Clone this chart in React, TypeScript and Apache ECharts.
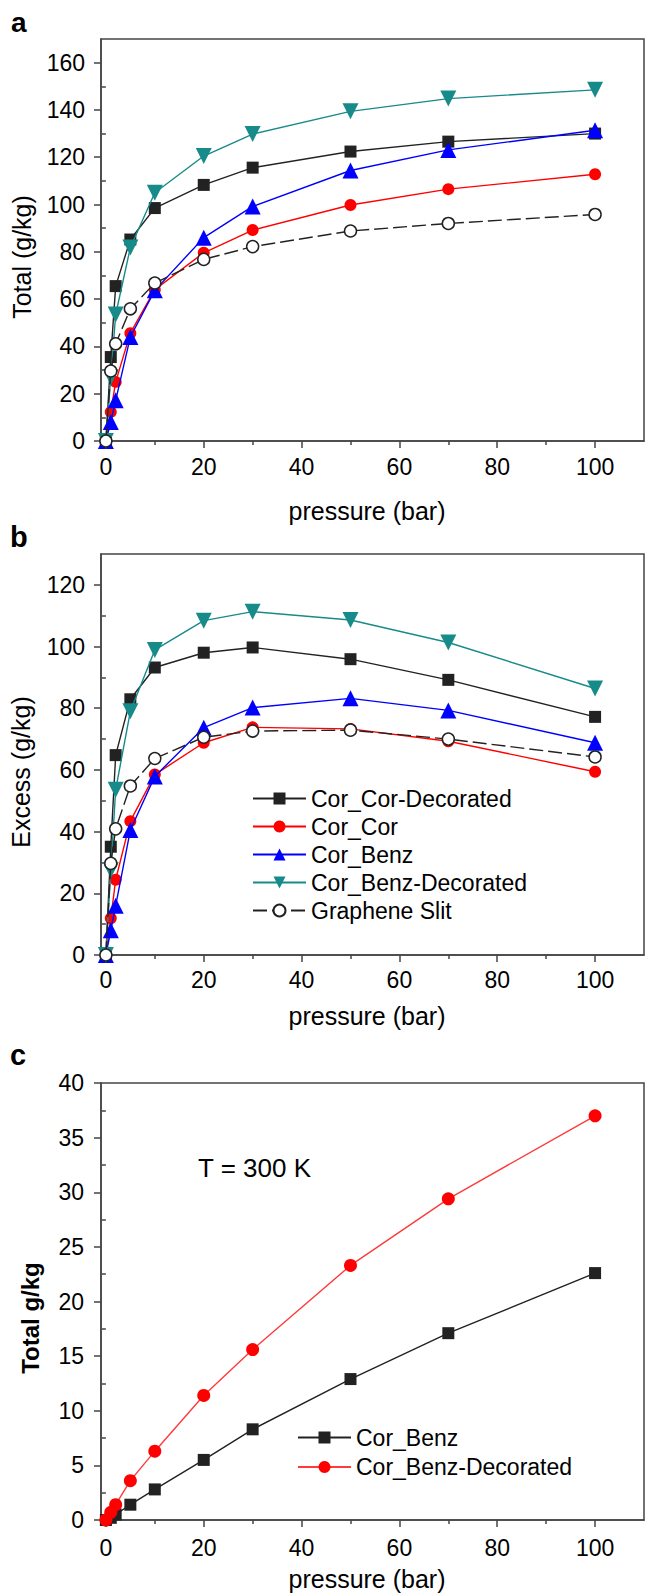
import React, { useEffect, useRef } from "react";
import * as echarts from "echarts";

// ---------- data ----------
const pressure = [0, 1, 2, 5, 10, 20, 30, 50, 70, 100];

// panel a: Total (g/kg)
const totCorCorDec = [0, 35.5, 65.5, 85.2, 98.5, 108.3, 115.6, 122.4, 126.6, 130.0];
const totCorCor = [0, 12.3, 25.0, 45.6, 64.0, 79.6, 89.2, 99.8, 106.5, 112.8];
const totCorBenz = [0, 8.0, 17.2, 44.0, 63.7, 86.0, 99.2, 114.4, 123.1, 131.4];
const totCorBenzDec = [0, 27.0, 53.5, 81.8, 105.0, 120.5, 129.8, 139.4, 144.8, 148.5];
const totGraphene = [0, 29.6, 41.1, 55.9, 66.8, 76.8, 82.2, 88.8, 92.0, 95.8];

// panel b: Excess (g/kg)
const excCorCorDec = [0, 35.1, 64.8, 82.9, 93.2, 98.0, 99.7, 95.9, 89.2, 77.2];
const excCorCor = [0, 11.9, 24.4, 43.4, 58.5, 68.8, 73.8, 73.3, 69.3, 59.4];
const excCorBenz = [0, 8.0, 16.0, 40.5, 57.9, 73.7, 80.2, 83.2, 79.3, 68.8];
const excCorBenzDec = [0, 27.5, 53.6, 79.0, 98.9, 108.4, 111.3, 108.6, 101.3, 86.4];
const excGraphene = [0, 29.7, 40.9, 54.8, 63.7, 70.6, 72.6, 72.9, 70.0, 64.2];

// panel c: Total g/kg at T = 300 K
const cCorBenz = [0, 0.2, 0.5, 1.4, 2.8, 5.5, 8.3, 12.9, 17.1, 22.6];
const cCorBenzDec = [0, 0.7, 1.4, 3.6, 6.3, 11.4, 15.6, 23.3, 29.4, 37.0];

// ticks
const xMajor = [0, 20, 40, 60, 80, 100];
const xMinor = [10, 30, 50, 70, 90];
const yMajorA = [0, 20, 40, 60, 80, 100, 120, 140, 160];
const yMinorA = [10, 30, 50, 70, 90, 110, 130, 150];
const yMajorB = [0, 20, 40, 60, 80, 100, 120];
const yMinorB = [10, 30, 50, 70, 90, 110];
const yMajorC = [0, 5, 10, 15, 20, 25, 30, 35, 40];
const yMinorC = [2.5, 7.5, 12.5, 17.5, 22.5, 27.5, 32.5, 37.5];

const namesAB = ["Cor_Cor-Decorated", "Cor_Cor", "Cor_Benz", "Cor_Benz-Decorated", "Graphene Slit"];
const namesC = ["c:Cor_Benz", "c:Cor_Benz-Decorated"];

const FONT = '"Liberation Sans", Arial, Helvetica, sans-serif';
const AXIS_COLOR = "#444";
const TEAL = "#178a8a";

const pairs = (ys: number[]) => pressure.map((x, i) => [x, ys[i]]);

function axesFor(
  gridIndex: number,
  yMax: number,
  yMajor: number[],
  yMinor: number[],
  xMargin: number,
  yMargin: number
) {
  const line = { color: AXIS_COLOR, width: 1.5 };
  const label = { fontSize: 23, color: "#000", fontFamily: FONT };
  const x = [
    {
      type: "value", gridIndex, position: "bottom", min: -1, max: 110,
      axisLine: { show: true, onZero: false, lineStyle: line },
      axisTick: { show: true, customValues: xMajor, length: 7, lineStyle: line },
      axisLabel: { ...label, customValues: xMajor, margin: xMargin },
      splitLine: { show: false },
    },
    {
      type: "value", gridIndex, position: "bottom", min: -1, max: 110,
      axisLine: { show: false },
      axisTick: { show: true, customValues: xMinor, length: 4, lineStyle: line },
      axisLabel: { show: false },
      splitLine: { show: false },
    },
  ];
  const y = [
    {
      type: "value", gridIndex, position: "left", min: 0, max: yMax,
      axisLine: { show: true, onZero: false, lineStyle: line },
      axisTick: { show: true, customValues: yMajor, length: 7, lineStyle: line },
      axisLabel: { ...label, customValues: yMajor, margin: yMargin },
      splitLine: { show: false },
    },
    {
      type: "value", gridIndex, position: "left", min: 0, max: yMax,
      axisLine: { show: false },
      axisTick: { show: true, customValues: yMinor, length: 4, lineStyle: line },
      axisLabel: { show: false },
      splitLine: { show: false },
    },
  ];
  return { x, y };
}

function mkSeries(
  name: string,
  ys: number[],
  axis: number,
  color: string,
  symbol: string,
  size: number,
  extra: any = {}
) {
  return {
    type: "line",
    name,
    data: pairs(ys),
    xAxisIndex: axis * 2,
    yAxisIndex: axis * 2,
    symbol,
    symbolSize: size,
    showAllSymbol: true,
    lineStyle: { color, width: 1.4, type: extra.dash || "solid" },
    itemStyle: extra.itemStyle || { color, borderWidth: 0 },
    symbolRotate: extra.rotate || 0,
    z: extra.z || 2,
  };
}

function panelSeries(axis: number, d: number[][]) {
  return [
    mkSeries(namesAB[0], d[0], axis, "#222", "rect", 12, { z: 3 }),
    mkSeries(namesAB[1], d[1], axis, "#ff0000", "circle", 12, { z: 3 }),
    mkSeries(namesAB[2], d[2], axis, "#0000ff", "triangle", 16, { z: 4 }),
    mkSeries(namesAB[3], d[3], axis, TEAL, "triangle", 16, { rotate: 180, z: 4 }),
    mkSeries(namesAB[4], d[4], axis, "#222", "circle", 12, {
      dash: [14, 5],
      itemStyle: { color: "#fff", borderColor: "#222", borderWidth: 1.5 },
      z: 5,
    }),
  ];
}

export default function App() {
  const ref = useRef<HTMLDivElement>(null);

  useEffect(() => {
    if (!ref.current) return;
    const chart = echarts.init(ref.current, null, { renderer: "svg" });
    const a = axesFor(0, 170, yMajorA, yMinorA, 14, 16);
    const b = axesFor(1, 130, yMajorB, yMinorB, 13, 16);
    const c = axesFor(2, 40, yMajorC, yMinorC, 16, 17);

    const gridBase = {
      left: 101, width: 543, show: true, borderColor: AXIS_COLOR, borderWidth: 1.5,
      backgroundColor: "transparent", containLabel: false,
    };

    const txt = (text: string, x: number, y: number, size: number, opts: any = {}) => ({
      type: "text",
      x, y,
      rotation: opts.rotation || 0,
      style: {
        text, fontSize: size, fontFamily: FONT, fill: "#000",
        fontWeight: opts.bold ? "bold" : "normal",
        textAlign: opts.align || "left", textVerticalAlign: "middle",
      },
      z: 10,
    });

    chart.setOption({
      animation: false,
      backgroundColor: "#fff",
      grid: [
        { ...gridBase, top: 39, height: 402 },
        { ...gridBase, top: 554, height: 401 },
        { ...gridBase, top: 1083, height: 437 },
      ],
      xAxis: [...a.x, ...b.x, ...c.x],
      yAxis: [...a.y, ...b.y, ...c.y],
      legend: [
        {
          data: namesAB, orient: "vertical", left: 252, top: 787,
          itemWidth: 53, itemHeight: 15, itemGap: 5, padding: 0,
          textStyle: { fontSize: 23, color: "#000", fontFamily: FONT },
          selectedMode: false,
        },
        {
          data: namesC, orient: "vertical", left: 297, top: 1426,
          itemWidth: 53, itemHeight: 15, itemGap: 6.5, padding: 0,
          formatter: (n: string) => n.replace("c:", ""),
          textStyle: { fontSize: 23, color: "#000", fontFamily: FONT },
          selectedMode: false,
        },
      ],
      graphic: [
        txt("a", 11, 22, 28, { bold: true }),
        txt("b", 10, 537, 29, { bold: true }),
        txt("c", 10, 1055, 29, { bold: true }),
        txt("pressure (bar)", 367, 511, 25, { align: "center" }),
        txt("pressure (bar)", 367, 1016, 25, { align: "center" }),
        txt("pressure (bar)", 367, 1579, 25, { align: "center" }),
        txt("Total (g/kg)", 22, 257, 25, { align: "center", rotation: Math.PI / 2 }),
        txt("Excess (g/kg)", 21, 772, 25, { align: "center", rotation: Math.PI / 2 }),
        txt("Total g/kg", 30, 1318, 24, { align: "center", rotation: Math.PI / 2, bold: true }),
        txt("T = 300 K", 198, 1168, 26),
      ],
      series: [
        ...panelSeries(0, [totCorCorDec, totCorCor, totCorBenz, totCorBenzDec, totGraphene]),
        ...panelSeries(1, [excCorCorDec, excCorCor, excCorBenz, excCorBenzDec, excGraphene]),
        mkSeries(namesC[0], cCorBenz, 2, "#222", "rect", 12, { z: 3 }),
        mkSeries(namesC[1], cCorBenzDec, 2, "#ff3a3a", "circle", 13, {
          itemStyle: { color: "#ff0000", borderWidth: 0 }, z: 3,
        }),
      ],
    });
    return () => chart.dispose();
  }, []);

  return (
    <div
      ref={ref}
      style={{ position: "absolute", left: 0, top: 0, width: 646, height: 1595 }}
    />
  );
}
